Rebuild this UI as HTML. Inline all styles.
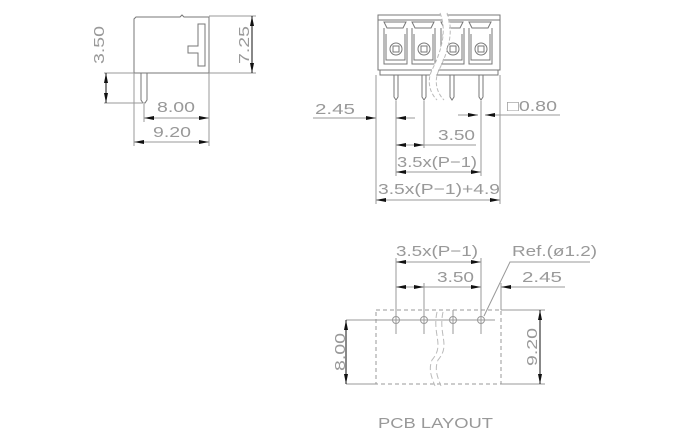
<!DOCTYPE html>
<html><head><meta charset="utf-8"><style>
html,body{margin:0;padding:0;background:#fff;width:680px;height:440px;overflow:hidden}
text{font-family:"Liberation Sans",sans-serif;font-size:15px;fill:#999;font-weight:300}
</style></head><body>
<svg width="680" height="440" viewBox="0 0 680 440" xmlns="http://www.w3.org/2000/svg">
<defs>
<marker id="a" viewBox="0 0 10 4" refX="10" refY="2" markerWidth="10" markerHeight="4" orient="auto-start-reverse" markerUnits="userSpaceOnUse"><path d="M0,0 L10,2 L0,4z" fill="#111"/></marker>
</defs>
<g stroke="#999" stroke-width="1" fill="none">
<path d="M136,17 H180 l2,-2 l2,2 H209 V73 H134 V19 Z" stroke="#777"/>
<path d="M205,24 V66 H198 V53 H188 V46 H198 V24 Z" stroke="#777"/>
<path d="M141,73 V100 l2,3 h2 l2,-3 V73" stroke="#777"/>
<line x1="209" y1="16" x2="256" y2="16"/><line x1="209" y1="73" x2="256" y2="73"/>
<line x1="104" y1="73" x2="134" y2="73"/><line x1="104" y1="103" x2="144" y2="103"/>
<line x1="134" y1="73" x2="134" y2="146"/><line x1="209" y1="73" x2="209" y2="146"/>
<line x1="144" y1="104" x2="144" y2="122"/>
<line x1="252" y1="16" x2="252" y2="73" stroke="#111" marker-start="url(#a)" marker-end="url(#a)"/>
<line x1="106" y1="76" x2="106" y2="103" stroke="#111" marker-end="url(#a)"/>
<line x1="106" y1="73" x2="106" y2="86" stroke="#111" marker-start="url(#a)"/>
<line x1="144" y1="118" x2="209" y2="118" marker-start="url(#a)" marker-end="url(#a)"/>
<line x1="134" y1="142" x2="209" y2="142" marker-start="url(#a)" marker-end="url(#a)"/>
<path d="M378,20 V15 H500 V20 M378,20 H500 M378,20 V70 H500 V20 M380,70 V75 H498 V70" stroke="#777"/>
<g stroke="#777">
<g id="cell"><path d="M384,22 h22 l-3,6 h-16z M384,28 V64 H407 V28 M386,34 V60 H405 V34"/><circle cx="396" cy="49" r="6"/><rect x="393" y="46" width="6" height="6"/></g>
<use href="#cell" x="28"/><use href="#cell" x="57"/><use href="#cell" x="85"/>
<path d="M394,75 V97 l2,3 l2,-3 V75 M422,75 V97 l2,3 l2,-3 V75 M450,75 V97 l2,3 l2,-3 V75 M479,75 V97 l2,3 l2,-3 V75"/>
</g>
<path d="M443,13 C450,30 445,50 435,70 C430,80 432,92 440,100" stroke="#fff" stroke-width="6"/>
<path d="M440,13 C447,30 442,50 432,70 C427,80 429,92 437,100 M447,13 C454,30 449,50 439,70 C434,80 436,92 444,100" stroke="#bbb" stroke-dasharray="4,2"/>
<line x1="376" y1="75" x2="376" y2="204"/><line x1="500" y1="75" x2="500" y2="204"/>
<line x1="396" y1="101" x2="396" y2="176"/><line x1="424" y1="101" x2="424" y2="148"/><line x1="481" y1="101" x2="481" y2="176"/>
<line x1="313" y1="118" x2="376" y2="118" marker-end="url(#a)"/>
<line x1="415" y1="118" x2="396" y2="118" marker-end="url(#a)"/>
<line x1="458" y1="115" x2="478" y2="115" marker-end="url(#a)"/>
<line x1="560" y1="115" x2="485" y2="115" marker-end="url(#a)"/>
<line x1="396" y1="145" x2="424" y2="145" marker-start="url(#a)" marker-end="url(#a)"/><line x1="424" y1="145" x2="476" y2="145"/>
<line x1="396" y1="172" x2="481" y2="172" marker-start="url(#a)" marker-end="url(#a)"/>
<line x1="376" y1="200" x2="500" y2="200" marker-start="url(#a)" marker-end="url(#a)"/>
<rect x="376" y="310" width="125" height="74" stroke-dasharray="4,3"/>
<line x1="346" y1="320" x2="495" y2="320"/>
<line x1="346" y1="384" x2="376" y2="384"/>
<line x1="501" y1="310" x2="545" y2="310"/><line x1="501" y1="384" x2="545" y2="384"/>
<line x1="346" y1="320" x2="346" y2="384" stroke="#111" marker-start="url(#a)" marker-end="url(#a)"/>
<line x1="540" y1="310" x2="540" y2="384" stroke="#111" marker-start="url(#a)" marker-end="url(#a)"/>
<circle cx="396" cy="320" r="3.5"/><circle cx="424" cy="320" r="3.5"/><circle cx="453" cy="320" r="3.5"/><circle cx="481" cy="320" r="3.5"/>
<line x1="396" y1="258" x2="396" y2="334"/><line x1="424" y1="283" x2="424" y2="334"/><line x1="453" y1="310" x2="453" y2="334"/><line x1="481" y1="258" x2="481" y2="334"/>
<line x1="501" y1="283" x2="501" y2="310"/>
<line x1="396" y1="262" x2="481" y2="262" marker-start="url(#a)" marker-end="url(#a)"/>
<line x1="396" y1="287" x2="424" y2="287" marker-start="url(#a)" marker-end="url(#a)"/><line x1="424" y1="287" x2="481" y2="287" marker-end="url(#a)"/>
<line x1="565" y1="287" x2="501" y2="287" marker-end="url(#a)"/>
<path d="M590,262 H510 L484,316" />
<path d="M437,312 C432,335 445,345 432,360 C428,370 432,378 435,386 M443,312 C438,335 451,345 438,360 C434,370 438,378 441,386" stroke="#bbb" stroke-dasharray="6,3"/>
</g>
<g>
<text x="157" y="112" textLength="38" lengthAdjust="spacingAndGlyphs">8.00</text>
<text x="153" y="137" textLength="38" lengthAdjust="spacingAndGlyphs">9.20</text>
<text transform="translate(104,64) rotate(-90)" textLength="38" lengthAdjust="spacingAndGlyphs">3.50</text>
<text transform="translate(249,64) rotate(-90)" textLength="38" lengthAdjust="spacingAndGlyphs">7.25</text>
<text x="315" y="114" textLength="40" lengthAdjust="spacingAndGlyphs">2.45</text>
<text x="507" y="111" textLength="50" lengthAdjust="spacingAndGlyphs">□0.80</text>
<text x="438" y="140" textLength="37" lengthAdjust="spacingAndGlyphs">3.50</text>
<text x="397" y="167" textLength="80" lengthAdjust="spacingAndGlyphs">3.5x(P−1)</text>
<text x="378" y="194" textLength="122" lengthAdjust="spacingAndGlyphs">3.5x(P−1)+4.9</text>
<text x="396" y="256" textLength="82" lengthAdjust="spacingAndGlyphs">3.5x(P−1)</text>
<text x="437" y="282" textLength="37" lengthAdjust="spacingAndGlyphs">3.50</text>
<text x="522" y="282" textLength="40" lengthAdjust="spacingAndGlyphs">2.45</text>
<text x="512" y="256" textLength="85" lengthAdjust="spacingAndGlyphs">Ref.(ø1.2)</text>
<text transform="translate(345,371) rotate(-90)" textLength="38" lengthAdjust="spacingAndGlyphs">8.00</text>
<text transform="translate(537,366) rotate(-90)" textLength="38" lengthAdjust="spacingAndGlyphs">9.20</text>
<text x="378" y="428" textLength="115" lengthAdjust="spacingAndGlyphs">PCB LAYOUT</text>
</g>
</svg>
</body></html>
